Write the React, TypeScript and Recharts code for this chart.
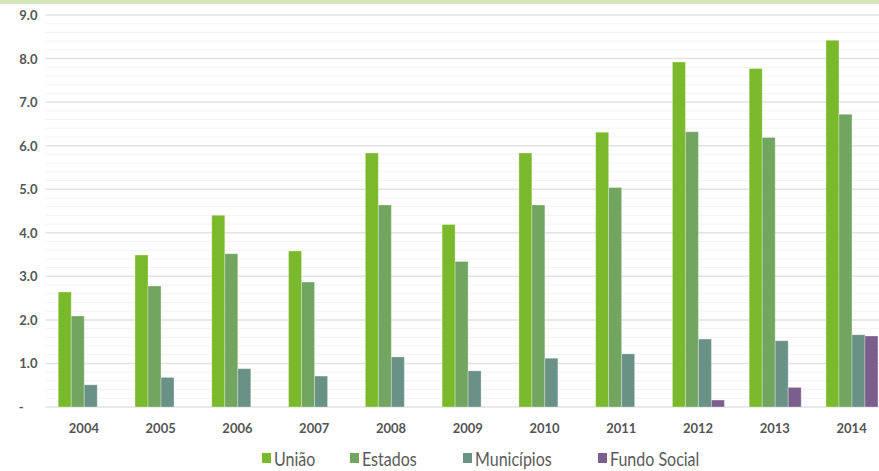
import React from "react";
import { BarChart, Bar, XAxis, YAxis, CartesianGrid, Legend } from "recharts";

const years = ["2004", "2005", "2006", "2007", "2008", "2009", "2010", "2011", "2012", "2013", "2014"];
const uniao = [2.64, 3.49, 4.4, 3.58, 5.83, 4.19, 5.83, 6.31, 7.92, 7.77, 8.42];
const estados = [2.09, 2.78, 3.52, 2.87, 4.64, 3.34, 4.64, 5.04, 6.32, 6.19, 6.72];
const municipios = [0.51, 0.68, 0.88, 0.71, 1.15, 0.83, 1.12, 1.22, 1.56, 1.52, 1.66];
const fundoSocial = [null, null, null, null, null, null, null, null, 0.16, 0.45, 1.63];
const yTicks = [0, 1, 2, 3, 4, 5, 6, 7, 8, 9];
const minorTicks = Array.from({ length: 45 }, (_, i) => Math.round((i + 1) * 2) / 10).filter(
  (v) => !Number.isInteger(v)
);

const seriesNames = ["União", "Estados", "Municípios", "Fundo Social"];
const seriesColors = ["#7ab92b", "#72a560", "#6a9185", "#7b5e8e"];
const legendItemWidths = [88, 113, 135, 100];

const data = years.map((year, i) => ({
  year,
  uniao: uniao[i],
  estados: estados[i],
  municipios: municipios[i],
  fundoSocial: fundoSocial[i],
}));

const YTick = (props: any) => {
  const { x, y, payload } = props;
  const isZero = payload.value === 0;
  return (
    <text
      x={isZero ? x - 14 : x}
      y={y}
      dy={5}
      textAnchor="end"
      fill="#555555"
      fontFamily="Lato, 'Open Sans', sans-serif"
      fontWeight={700}
      fontSize={13}
    >
      {isZero ? "-" : Number(payload.value).toFixed(1)}
    </text>
  );
};

const LegendContent = () => {
  return (
    <div
      style={{
        height: 34,
        width: 879,
        display: "flex",
        alignItems: "flex-start",
        paddingLeft: 262,
        boxSizing: "border-box",
      }}
    >
      {seriesNames.map((name, i) => (
        <div
          key={name}
          style={{ display: "flex", alignItems: "flex-start", width: legendItemWidths[i], marginTop: 14, flex: "none" }}
        >
          <span
            style={{
              display: "inline-block",
              width: 9,
              height: 10,
              background: seriesColors[i],
              marginTop: 2,
              marginRight: 3,
              flex: "none",
            }}
          />
          <span
            style={{
              fontFamily: "Lato, 'Open Sans', sans-serif",
              fontWeight: 400,
              fontSize: 16,
              lineHeight: "18px",
              color: "#5a5a5a",
              display: "inline-block",
              whiteSpace: "nowrap",
              marginTop: -3,
              transform: "scaleY(1.18)",
              transformOrigin: "center top",
            }}
          >
            {name}
          </span>
        </div>
      ))}
    </div>
  );
};

export default function App() {
  return (
    <div style={{ position: "relative", width: 879, height: 471, overflow: "hidden", background: "#fff" }}>
      <style>{`body{margin:0;}`}</style>
      <BarChart
        width={890}
        height={471}
        data={data}
        margin={{ top: 15, right: 0, left: 0, bottom: 0 }}
        barCategoryGap="16.6%"
        barGap={0}
      >
        <CartesianGrid vertical={false} horizontalValues={minorTicks} stroke="#f3f3f3" strokeWidth={1} />
        <CartesianGrid vertical={false} horizontalValues={yTicks} stroke="#e2e2e2" strokeWidth={1.5} />
        <XAxis
          dataKey="year"
          tickLine={false}
          axisLine={false}
          height={30}
          tickMargin={11}
          tick={{ fill: "#555555", fontFamily: "Lato, 'Open Sans', sans-serif", fontWeight: 700, fontSize: 13 }}
        />
        <YAxis
          width={45.5}
          domain={[0, 9]}
          ticks={yTicks}
          tickLine={false}
          axisLine={false}
          tick={<YTick />}
          interval={0}
        />
        <Legend verticalAlign="bottom" align="left" content={<LegendContent />} wrapperStyle={{ left: 0 }} />
        <Bar dataKey="uniao" name={seriesNames[0]} fill={seriesColors[0]} stroke="rgba(255,255,255,0.3)" strokeWidth={1} isAnimationActive={false} />
        <Bar dataKey="estados" name={seriesNames[1]} fill={seriesColors[1]} stroke="rgba(255,255,255,0.3)" strokeWidth={1} isAnimationActive={false} />
        <Bar dataKey="municipios" name={seriesNames[2]} fill={seriesColors[2]} stroke="rgba(255,255,255,0.3)" strokeWidth={1} isAnimationActive={false} />
        <Bar dataKey="fundoSocial" name={seriesNames[3]} fill={seriesColors[3]} stroke="rgba(255,255,255,0.3)" strokeWidth={1} isAnimationActive={false} />
      </BarChart>
      <div style={{ position: "absolute", left: 0, top: 0, width: 879, height: 4, background: "#d5e7b9" }} />
    </div>
  );
}
